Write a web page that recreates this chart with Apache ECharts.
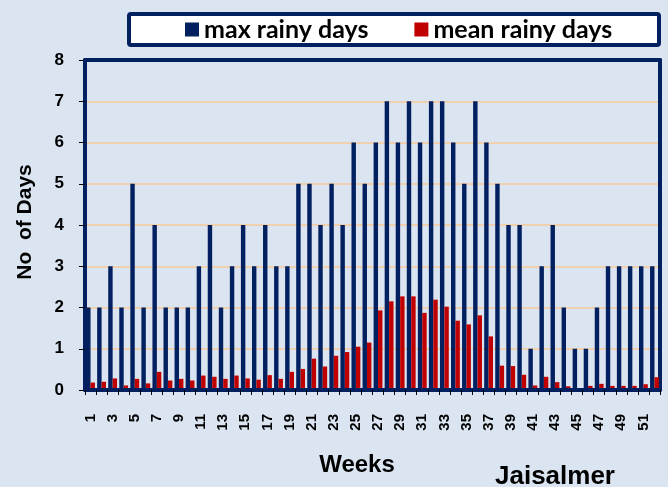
<!DOCTYPE html>
<html>
<head>
<meta charset="utf-8">
<style>
  html, body { margin: 0; padding: 0; background: #dbe5f1; }
  #chart { width: 668px; height: 487px; }
</style>
<script src="https://cdn.jsdelivr.net/npm/echarts@6/dist/echarts.min.js"></script>
</head>
<body>
<div id="chart"></div>
<script>
// Weekly rainy days, Jaisalmer
const weeks = ['1','2','3','4','5','6','7','8','9','10','11','12','13','14','15','16','17','18','19','20',
  '21','22','23','24','25','26','27','28','29','30','31','32','33','34','35','36','37','38','39','40',
  '41','42','43','44','45','46','47','48','49','50','51','52'];

const maxRainyDays = [2,2,3,2,5,2,4,2,2,2, 3,4,2,3,4,3,4,3,3,5, 5,4,5,4,6,5,6,7,6,7,
  6,7,7,6,5,7,6,5,4,4, 1,3,4,2,1,1,2,3,3,3,3,3];

const meanRainyDays = [0.18,0.20,0.28,0.11,0.27,0.16,0.44,0.23,0.27,0.23,
  0.35,0.32,0.27,0.35,0.28,0.25,0.36,0.27,0.44,0.51,
  0.76,0.57,0.83,0.92,1.05,1.15,1.93,2.15,2.27,2.27,
  1.87,2.19,2.02,1.68,1.59,1.81,1.30,0.59,0.58,0.37,
  0.11,0.32,0.19,0.09,0.00,0.10,0.15,0.10,0.10,0.10,0.14,0.31];

const yTicks = [0,1,2,3,4,5,6,7,8];

const NAVY = '#002060';
const RED = '#c00000';
const FONT = '"Liberation Sans", Arial, sans-serif';

// thick navy frame line for the plot edges
function frameLine() {
  return { show: true, onZero: false, lineStyle: { color: NAVY, width: 4 } };
}

const chart = echarts.init(document.getElementById('chart'));
chart.setOption({
  backgroundColor: '#dbe5f1',
  animation: false,
  grid: { left: 85, right: 8, top: 60, bottom: 97 },
  legend: {
    left: 180, top: 12,
    itemWidth: 14, itemHeight: 14, itemGap: 46,
    icon: 'rect',
    textStyle: { fontFamily: 'Lato, sans-serif', fontWeight: 'bold', fontSize: 25, color: '#000' },
    data: ['max rainy days', 'mean rainy days'],
    z: 10
  },
  xAxis: [
    {
      type: 'category',
      data: weeks,
      z: 5,
      axisLine: frameLine(),
      axisTick: { show: true, interval: 0, length: 5, lineStyle: { color: '#000', width: 1 } },
      axisLabel: {
        interval: 1, rotate: 90, margin: 24,
        fontFamily: FONT, fontWeight: 'bold', fontSize: 15, color: '#000'
      },
      splitLine: { show: false }
    },
    {
      type: 'category',
      position: 'top',
      data: weeks,
      z: 5,
      axisLine: frameLine(),
      axisTick: { show: false },
      axisLabel: { show: false },
      splitLine: { show: false }
    }
  ],
  yAxis: [
    {
      type: 'value',
      min: yTicks[0], max: yTicks[yTicks.length - 1], interval: 1,
      axisLine: frameLine(),
      axisTick: { show: true, length: 6, lineStyle: { color: '#000', width: 1 } },
      axisLabel: { margin: 21, fontFamily: FONT, fontWeight: 'bold', fontSize: 17, color: '#000' },
      splitLine: { show: true, showMinLine: false, showMaxLine: false, lineStyle: { color: '#f8c89a', width: 1.5 } }
    },
    {
      type: 'value',
      position: 'right',
      min: yTicks[0], max: yTicks[yTicks.length - 1], interval: 1,
      axisLine: frameLine(),
      axisTick: { show: false },
      axisLabel: { show: false },
      splitLine: { show: false }
    }
  ],
  series: [
    {
      name: 'max rainy days', type: 'bar', data: maxRainyDays,
      barWidth: '40%', barGap: '0%',
      itemStyle: { color: NAVY }
    },
    {
      name: 'mean rainy days', type: 'bar', data: meanRainyDays,
      barWidth: '40%', barGap: '0%',
      itemStyle: { color: RED }
    }
  ],
  graphic: [
    {
      type: 'rect', z: 1,
      shape: { x: 129, y: 14, width: 530, height: 31, r: 2 },
      style: { fill: '#ffffff', stroke: NAVY, lineWidth: 4 }
    },
    {
      type: 'text', x: 25, y: 222, rotation: Math.PI / 2,
      style: { text: 'No  of Days', font: 'bold 21px ' + FONT, fill: '#000', align: 'center', verticalAlign: 'middle' }
    },
    {
      type: 'text', x: 357, y: 465,
      style: { text: 'Weeks', font: 'bold 24px ' + FONT, fill: '#000', align: 'center', verticalAlign: 'middle' }
    },
    {
      type: 'text', x: 555, y: 477,
      style: { text: 'Jaisalmer', font: 'bold 26px ' + FONT, fill: '#000', align: 'center', verticalAlign: 'middle' }
    }
  ]
});
</script>
</body>
</html>
